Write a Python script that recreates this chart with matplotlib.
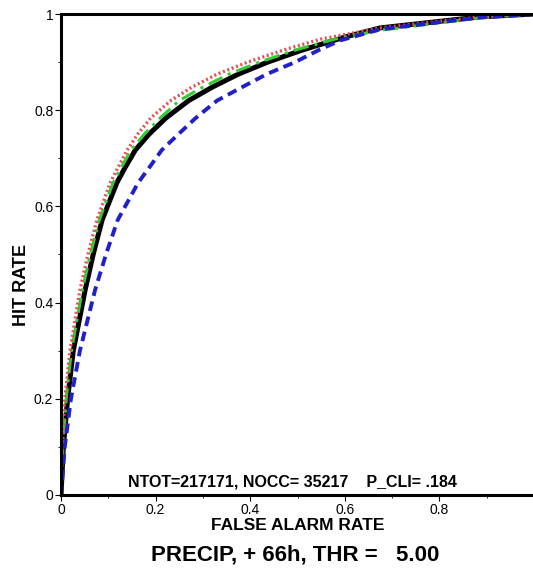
import numpy as np
import matplotlib
matplotlib.use("Agg")
import matplotlib.pyplot as plt

plt.rcParams['font.family'] = ['Liberation Sans', 'DejaVu Sans']

# ROC curves: false alarm rate vs hit rate
hr_pts = [0, 0.10, 0.20, 0.30, 0.426, 0.50, 0.572, 0.649, 0.68, 0.717, 0.75, 0.784, 0.82, 0.848, 0.875, 0.90, 0.925]

far_black = [0, 0.005, 0.014, 0.026, 0.051, 0.068, 0.087, 0.118, 0.135, 0.157, 0.186, 0.222, 0.27, 0.32, 0.375, 0.437, 0.51, 0.60, 0.674, 0.886, 1.0]
hr_black = hr_pts + [0.952, 0.971, 0.994, 1.0]

far_red = [0, 0.003, 0.008, 0.019, 0.040, 0.057, 0.076, 0.104, 0.120, 0.140, 0.162, 0.190, 0.232, 0.277, 0.33, 0.395, 0.47, 0.55, 0.674, 0.886, 1.0]
hr_red = hr_pts + [0.948, 0.971, 0.994, 1.0]

far_green = [0, 0.004, 0.011, 0.022, 0.045, 0.062, 0.081, 0.110, 0.127, 0.148, 0.176, 0.210, 0.25, 0.300, 0.355, 0.420, 0.495, 0.58, 0.674, 0.886, 1.0]
hr_green = hr_pts + [0.948, 0.966, 0.992, 1.0]

far_blue = [0, 0.008, 0.021, 0.040, 0.072, 0.095, 0.120, 0.163, 0.186, 0.213, 0.248, 0.285, 0.330, 0.383, 0.435, 0.495, 0.545, 0.59, 0.674, 0.886, 1.0]
hr_blue = hr_pts + [0.945, 0.968, 0.993, 1.0]

info = "NTOT=217171, NOCC= 35217    P_CLI= .184"
title = "PRECIP, + 66h, THR =   5.00"

fig = plt.figure(figsize=(5.33, 5.75), dpi=100)
ax = fig.add_axes([61/533, 80/575, 473/533, 481/575])

ax.plot(far_black, hr_black, color='black', lw=3.6, solid_capstyle='butt')
ax.plot(far_green, hr_green, color='#33cc33', lw=2.2, linestyle=(0, (5, 2, 1, 2)))
ax.plot(far_red, hr_red, color='#e05050', lw=2.4, linestyle=(0, (0.6, 0.8)))
ax.plot(far_blue, hr_blue, color='#2020c8', lw=2.8, linestyle=(0, (2.5, 1.5)))

ax.set_xlim(0, 1)
ax.set_ylim(0, 1)
ax.set_xticks([0, 0.2, 0.4, 0.6, 0.8])
ax.set_xticklabels(['0', '0.2', '0.4', '0.6', '0.8'])
ax.set_yticks([0, 0.2, 0.4, 0.6, 0.8, 1.0])
ax.set_yticklabels(['0', '0.2', '0.4', '0.6', '0.8', '1'])
ax.set_xticks(np.arange(0.1, 1.0, 0.2), minor=True)
ax.set_yticks(np.arange(0.1, 1.0, 0.2), minor=True)
ax.tick_params(which='major', direction='out', length=4, width=0.8, labelsize=10, pad=1.5)
ax.tick_params(which='minor', direction='out', length=2, width=0.6)
for s in ['left', 'bottom', 'top']:
    ax.spines[s].set_linewidth(2.2)
ax.spines['right'].set_visible(False)

ax.text(0.49, 0.028, info, transform=ax.transAxes, ha='center', va='center',
        fontsize=11.5, fontweight='bold')

fig.text(298/533, 1 - 526/575, "FALSE ALARM RATE", ha='center', va='center',
         fontsize=12.5, fontweight='bold')
fig.text(21/533, 1 - 285/575, "HIT RATE", ha='center', va='center', rotation=90,
         fontsize=13, fontweight='bold')
fig.text(295/533, 1 - 555/575, title, ha='center', va='center',
         fontsize=16, fontweight='bold')

fig.savefig("out.png", dpi=100)
